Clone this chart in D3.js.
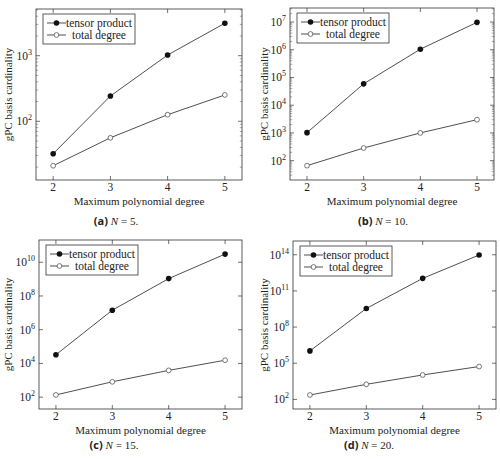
<!DOCTYPE html>
<html>
<head>
<meta charset="utf-8">
<script src="https://cdn.jsdelivr.net/npm/d3@7"></script>
<style>
  body { margin: 0; background: #fff; }
  svg { display: block; }
  text { font-family: "Liberation Serif", "DejaVu Serif", serif; fill: #222; }
</style>
</head>
<body>
<svg id="chart" width="500" height="459"></svg>
<script>
// data
const degrees = [2, 3, 4, 5];

const tensorN5 = [32, 243, 1024, 3125];
const totalN5 = [21, 56, 126, 252];
const tensorN10 = [1024, 59049, 1048576, 9765625];
const totalN10 = [66, 286, 1001, 3003];
const tensorN15 = [32768, 14348907, 1073741824, 30517578125];
const totalN15 = [136, 816, 3876, 15504];
const tensorN20 = [1048576, 3486784401, 1099511627776, 95367431640625];
const totalN20 = [231, 1771, 10626, 53130];

// y tick exponents per panel
const expN5 = [2, 3];
const expN10 = [2, 3, 4, 5, 6, 7];
const expN15 = [2, 4, 6, 8, 10];
const expN20 = [2, 5, 8, 11, 14];

const seriesNames = ["tensor product", "total degree"];
const xTitle = "Maximum polynomial degree";
const yTitle = "gPC basis cardinality";

// layout per panel (frame = left, top, right, bottom)
const panels = [
  { tag: "a", N: 5, tensor: tensorN5, total: totalN5, exps: expN5, minor: true,
    frame: [36, 9, 242, 180], yLabX: 8, capX: 116, capY: 225 },
  { tag: "b", N: 10, tensor: tensorN10, total: totalN10, exps: expN10, minor: true,
    frame: [290, 8, 494, 180], yLabX: 264, capX: 383, capY: 225 },
  { tag: "c", N: 15, tensor: tensorN15, total: totalN15, exps: expN15, minor: false,
    frame: [39, 240, 242, 409], yLabX: 8, capX: 114, capY: 449 },
  { tag: "d", N: 20, tensor: tensorN20, total: totalN20, exps: expN20, minor: false,
    frame: [293, 241, 496, 409], yLabX: 264, capX: 369, capY: 449 }
];

const svg = d3.select("#chart");

panels.forEach(p => {
  const [x0, y0, x1, y1] = p.frame;
  const g = svg.append("g");

  // pgfplots-style 10% enlargement of limits
  const xr = d3.extent(degrees);
  const xPad = (xr[1] - xr[0]) * 0.1;
  const x = d3.scaleLinear().domain([xr[0] - xPad, xr[1] + xPad]).range([x0, x1]);

  const all = p.tensor.concat(p.total).map(Math.log10);
  const lr = d3.extent(all);
  const lPad = (lr[1] - lr[0]) * 0.1;
  const y = d3.scaleLog()
    .domain([Math.pow(10, lr[0] - lPad), Math.pow(10, lr[1] + lPad)])
    .range([y1, y0]);

  // minor ticks
  if (p.minor) {
    const [d0, d1] = y.domain();
    const minors = [];
    for (let e = Math.floor(Math.log10(d0)); e <= Math.ceil(Math.log10(d1)); e++) {
      for (let k = 2; k <= 9; k++) {
        const v = k * Math.pow(10, e);
        if (v > d0 && v < d1) minors.push(v);
      }
    }
    minors.forEach(v => {
      const yy = y(v);
      g.append("line").attr("x1", x0).attr("x2", x0 + 2.2).attr("y1", yy).attr("y2", yy)
        .attr("stroke", "#555").attr("stroke-width", 0.5);
      g.append("line").attr("x1", x1).attr("x2", x1 - 2.2).attr("y1", yy).attr("y2", yy)
        .attr("stroke", "#555").attr("stroke-width", 0.5);
    });
  }

  // major y ticks + labels
  p.exps.forEach(e => {
    const yy = y(Math.pow(10, e));
    g.append("line").attr("x1", x0).attr("x2", x0 + 4).attr("y1", yy).attr("y2", yy)
      .attr("stroke", "#333").attr("stroke-width", 0.7);
    g.append("line").attr("x1", x1).attr("x2", x1 - 4).attr("y1", yy).attr("y2", yy)
      .attr("stroke", "#333").attr("stroke-width", 0.7);
    const t = g.append("text").attr("x", x0 - 4).attr("y", yy + 4)
      .attr("text-anchor", "end").attr("font-size", 11.5);
    t.append("tspan").text("10");
    t.append("tspan").attr("dy", -5).attr("font-size", 8).text(e);
  });

  // x ticks + labels
  degrees.forEach(d => {
    const xx = x(d);
    g.append("line").attr("x1", xx).attr("x2", xx).attr("y1", y1).attr("y2", y1 - 4)
      .attr("stroke", "#333").attr("stroke-width", 0.7);
    g.append("line").attr("x1", xx).attr("x2", xx).attr("y1", y0).attr("y2", y0 + 4)
      .attr("stroke", "#333").attr("stroke-width", 0.7);
    g.append("text").attr("x", xx).attr("y", y1 + 11).attr("text-anchor", "middle")
      .attr("font-size", 11.5).text(d);
  });

  // frame
  g.append("rect").attr("x", x0).attr("y", y0).attr("width", x1 - x0).attr("height", y1 - y0)
    .attr("fill", "none").attr("stroke", "#333").attr("stroke-width", 0.8);

  // lines
  const line = d3.line().x((v, i) => x(degrees[i])).y(v => y(v));
  [p.total, p.tensor].forEach(s => {
    g.append("path").attr("d", line(s)).attr("fill", "none")
      .attr("stroke", "#222").attr("stroke-width", 0.8);
  });

  // markers
  p.tensor.forEach((v, i) => {
    g.append("circle").attr("cx", x(degrees[i])).attr("cy", y(v)).attr("r", 2.8)
      .attr("fill", "#111");
  });
  p.total.forEach((v, i) => {
    g.append("circle").attr("cx", x(degrees[i])).attr("cy", y(v)).attr("r", 2.4)
      .attr("fill", "#fff").attr("stroke", "#555").attr("stroke-width", 0.8);
  });

  // legend
  const lx = x0 + 7, ly = y0 + 5;
  g.append("rect").attr("x", lx).attr("y", ly).attr("width", 92).attr("height", 30)
    .attr("fill", "#fff").attr("stroke", "#333").attr("stroke-width", 0.8);
  seriesNames.forEach((name, i) => {
    const yy = ly + 9 + i * 12;
    g.append("line").attr("x1", lx + 4).attr("x2", lx + 23).attr("y1", yy).attr("y2", yy)
      .attr("stroke", "#222").attr("stroke-width", 0.8);
    if (i === 0) {
      g.append("circle").attr("cx", lx + 13.5).attr("cy", yy).attr("r", 2.8).attr("fill", "#111");
    } else {
      g.append("circle").attr("cx", lx + 13.5).attr("cy", yy).attr("r", 2.4)
        .attr("fill", "#fff").attr("stroke", "#555").attr("stroke-width", 0.8);
    }
    g.append("text").attr("x", lx + 56).attr("y", yy + 4).attr("text-anchor", "middle")
      .attr("font-size", 11.5).text(name);
  });

  // axis titles
  g.append("text").attr("x", (x0 + x1) / 2).attr("y", y1 + 25).attr("text-anchor", "middle")
    .attr("font-size", 11).text(xTitle);
  g.append("text")
    .attr("transform", `translate(${p.yLabX},${(y0 + y1) / 2}) rotate(-90)`)
    .attr("dy", "0.35em").attr("text-anchor", "middle")
    .attr("font-size", 11).text(yTitle);

  // caption
  const cap = g.append("text").attr("x", p.capX).attr("y", p.capY).attr("text-anchor", "middle")
    .attr("font-size", 11);
  cap.append("tspan").attr("font-family", "'Open Sans', 'DejaVu Sans', sans-serif")
    .attr("font-weight", "bold").text(`(${p.tag}) `);
  cap.append("tspan").attr("font-style", "italic").text("N");
  cap.append("tspan").text(` = ${p.N}.`);
});
</script>
</body>
</html>
